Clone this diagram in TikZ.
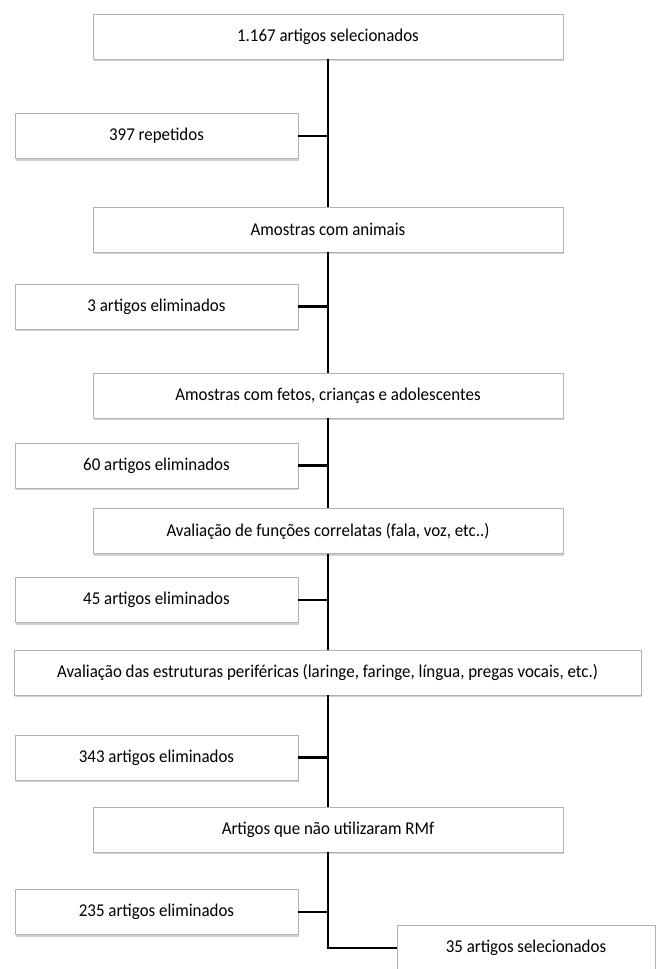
\documentclass[tikz,border=0pt]{standalone}
\usepackage{fontspec}
\setmainfont[FakeStretch=0.94]{Carlito}
\usetikzlibrary{shadows}
\begin{document}
\begin{tikzpicture}[x=1pt,y=-1pt,
  box/.style={draw=gray!60, line width=0.8pt, fill=white, inner sep=0pt,
    minimum height=45pt, anchor=center, font=\fontsize{18}{20}\selectfont,
    drop shadow={shadow xshift=1.2pt, shadow yshift=-2pt, fill=gray!45, opacity=0.8}},
  mainbox/.style={box, minimum width=470pt},
  sidebox/.style={box, minimum width=283pt},
  conn/.style={draw=black, line width=2.6pt}]
\useasboundingbox (0,0) rectangle (657,969);
\node[mainbox] (A) at (328,36.5) {1.167 artigos selecionados};
\node[sidebox] (B) at (156.5,136) {397 repetidos};
\node[mainbox] (C) at (328,229.5) {Amostras com animais};
\node[sidebox] (D) at (156.5,306.5) {3 artigos eliminados};
\node[mainbox] (E) at (328,395.5) {Amostras com fetos, crianças e adolescentes};
\node[sidebox] (F) at (156.5,465.5) {60 artigos eliminados};
\node[mainbox] (G) at (328,531) {Avaliação de funções correlatas (fala, voz, etc..)};
\node[sidebox] (H) at (156.5,600) {45 artigos eliminados};
\node[box, minimum width=627pt] (I) at (327.5,672.5) {Avaliação das estruturas periféricas (laringe, faringe, língua, pregas vocais, etc.)};
\node[sidebox] (J) at (156.5,757.5) {343 artigos eliminados};
\node[mainbox] (K) at (328,829.5) {Artigos que não utilizaram RMf};
\node[sidebox] (L) at (156.5,912) {235 artigos eliminados};
\node[box, minimum width=258pt, minimum height=46pt] (M) at (526,948) {35 artigos selecionados};
\draw[conn] (A.south) -- (C.north);
\draw[conn] (C.south) -- (E.north);
\draw[conn] (E.south) -- (G.north);
\draw[conn] (G.south) -- (I.north -| G.south);
\draw[conn] (I.south -| K.north) -- (K.north);
\draw[conn] (K.south) |- (M.west);
\foreach \s/\t in {B/A, D/C, F/E, H/G, J/K, L/K}
  \draw[conn] (\s.east) -- (\s.east -| \t.south);
\end{tikzpicture}
\end{document}
